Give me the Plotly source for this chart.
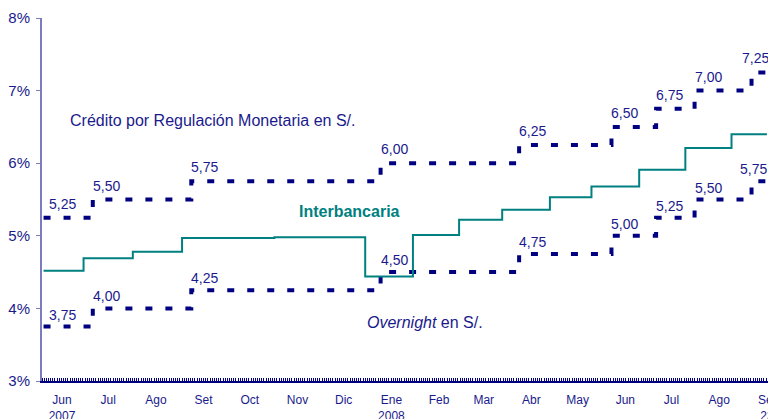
import plotly.graph_objects as go

# ---------------- data ----------------
# Interbank rate (step changes)
inter_dates = ["2007-06-11", "2007-07-07", "2007-08-08", "2007-09-09", "2007-11-08",
               "2008-01-06", "2008-02-06", "2008-03-07", "2008-04-04", "2008-05-05",
               "2008-06-01", "2008-07-02", "2008-08-01", "2008-08-31", "2008-09-23"]
inter_vals = [4.52, 4.69, 4.78, 4.97, 4.98,
              4.44, 5.01, 5.22, 5.36, 5.53,
              5.68, 5.91, 6.21, 6.40, 6.40]

# Corridor step dates (shared by both dashed series)
step_dates = ["2007-06-11", "2007-07-13", "2007-09-15", "2008-01-16", "2008-04-15",
              "2008-06-14", "2008-07-13", "2008-08-07", "2008-09-13"]
end_date = "2008-09-23"
credit_vals = [5.25, 5.50, 5.75, 6.00, 6.25, 6.50, 6.75, 7.00, 7.25]
overnight_vals = [3.75, 4.00, 4.25, 4.50, 4.75, 5.00, 5.25, 5.50, 5.75]

# x-axis tick labels
tick_dates = ["2007-06-23", "2007-07-23", "2007-08-23", "2007-09-23", "2007-10-23",
              "2007-11-23", "2007-12-23", "2008-01-23", "2008-02-23", "2008-03-23",
              "2008-04-23", "2008-05-23", "2008-06-23", "2008-07-23", "2008-08-23",
              "2008-09-23"]
tick_labels = ["Jun<br>2007", "Jul", "Ago", "Set", "Oct", "Nov", "Dic", "Ene<br>2008",
               "Feb", "Mar", "Abr", "May", "Jun", "Jul", "Ago", "Set<br>23"]
y_ticks = [3, 4, 5, 6, 7, 8]

# ---------------- styles ----------------
NAVY = "#000080"
TXT = "#1a1a8c"
TEAL = "#008080"
FONT = "Arial, Liberation Sans, sans-serif"

fig = go.Figure()

dash_line = dict(color=NAVY, width=4, dash="7px,13px")
for vals in (credit_vals, overnight_vals):
    fig.add_trace(go.Scatter(
        x=step_dates + [end_date], y=vals + [vals[-1]],
        mode="lines", line=dict(shape="hv", **dash_line),
        hoverinfo="skip", showlegend=False))

fig.add_trace(go.Scatter(
    x=inter_dates, y=inter_vals, mode="lines",
    line=dict(color=TEAL, width=2, shape="hv"),
    showlegend=False))

annotations = []
n = len(step_dates)
for vals in (credit_vals, overnight_vals):
    is_credit = vals is credit_vals
    for i, (d, v) in enumerate(zip(step_dates, vals)):
        xs = 3 if i == 0 else -2
        if i == n - 1:
            xs = -12 if is_credit else -14
        annotations.append(dict(
            x=d, y=v, text=f"{v:.2f}".replace(".", ","),
            xanchor="left", yanchor="middle", yshift=14 if is_credit else 12,
            xshift=xs, showarrow=False,
            font=dict(family=FONT, size=14, color=TXT)))

annotations += [
    dict(x="2007-06-27", y=6.59, text="Crédito por Regulación Monetaria en S/.",
         xanchor="left", yanchor="middle", showarrow=False,
         font=dict(family=FONT, size=16, color=TXT)),
    dict(x="2007-11-23", y=5.33, text="<b>Interbancaria</b>",
         xanchor="left", yanchor="middle", showarrow=False,
         font=dict(family=FONT, size=16, color=TEAL)),
    dict(x="2008-01-06", y=3.81, text="<i>Overnight</i> en S/.",
         xanchor="left", yanchor="middle", showarrow=False,
         font=dict(family=FONT, size=16, color=TXT)),
]

# page body has an 8px default margin, so the figure is sized to fit the window
fig.update_layout(
    width=768, height=411,
    margin=dict(l=34, r=6, t=10, b=38),
    paper_bgcolor="white", plot_bgcolor="white",
    showlegend=False,
    annotations=annotations,
    xaxis=dict(
        type="date", range=["2007-06-10", "2008-09-25"], automargin=False,
        tickvals=tick_dates, ticktext=tick_labels,
        ticks="", showgrid=False, zeroline=False,
        showline=True, linecolor=NAVY, linewidth=1.5,
        tickfont=dict(family=FONT, size=12, color=TXT),
        ticklabelstandoff=7, ticklabeloverflow="allow",
        minor=dict(ticks="inside", ticklen=3, tickcolor=NAVY, tickwidth=1,
                   dtick=86400000 * 1.4, tick0="2007-06-10"),
    ),
    yaxis=dict(
        range=[3, 8], tickvals=y_ticks, ticktext=[f"{t}%" for t in y_ticks],
        automargin=False,
        ticks="outside", ticklen=4, tickcolor="#7b7bbd",
        showgrid=False, zeroline=False,
        showline=True, linecolor="#7b7bbd", linewidth=2,
        tickfont=dict(family=FONT, size=15, color=TXT),
        ticklabelstandoff=3,
    ),
)

fig.write_html("out.html")
